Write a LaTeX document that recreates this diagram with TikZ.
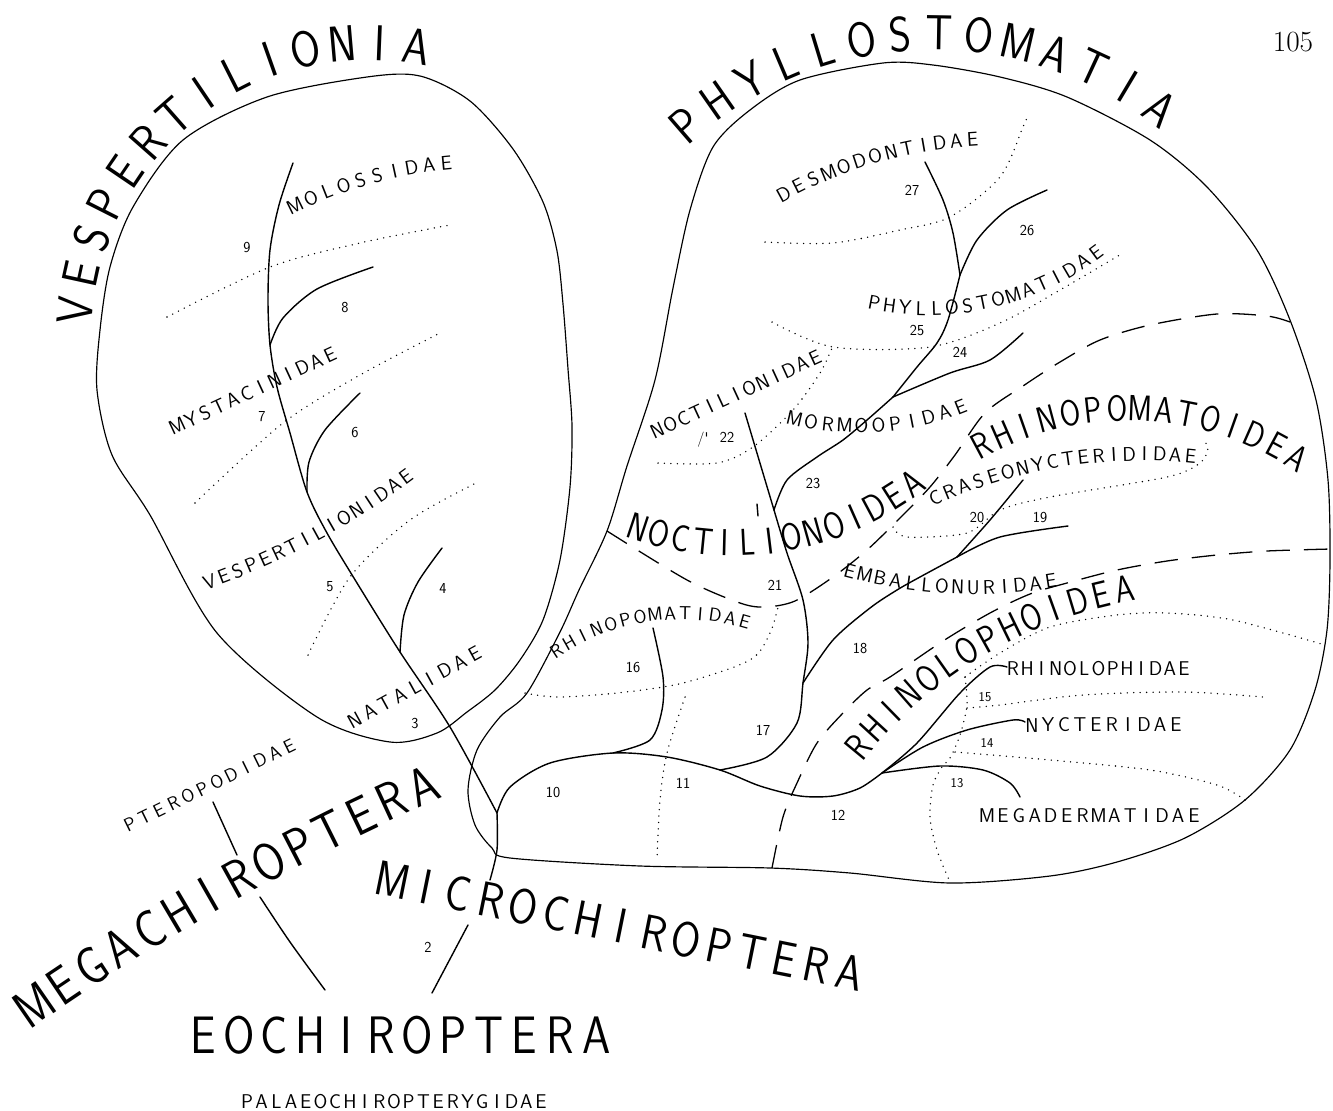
\documentclass[tikz,border=0pt]{standalone}
\usepackage{fontspec}
\newfontfamily\labf{lmsans17-regular.otf}
\newfontfamily\bigf[FakeStretch=0.86]{lmsans17-regular.otf}
\newfontfamily\narf[FakeStretch=0.82]{lmsans17-regular.otf}
\newlength\lw
% measure total width and count of a comma list of letters
\newcommand\mwidths[2]{%
  \gdef\tw{0}\gdef\tn{0}%
  \foreach \ch in {#2}{\settowidth{\lw}{#1\ch}\pgfmathsetmacro\tmp{\tw+\lw}\xdef\tw{\tmp}%
    \pgfmathtruncatemacro\tmpn{\tn+1}\xdef\tn{\tmpn}}}
% letters along a circular arc through three points (pixel units)
\newcommand\clbl[8]{%
  \pgfmathsetmacro\Ax{#3/100}\pgfmathsetmacro\Ay{#4/100}%
  \pgfmathsetmacro\Bx{#5/100}\pgfmathsetmacro\By{#6/100}%
  \pgfmathsetmacro\Cx{#7/100}\pgfmathsetmacro\Cy{#8/100}%
  \pgfmathsetmacro\dd{2*(\Ax*(\By-\Cy)+\Bx*(\Cy-\Ay)+\Cx*(\Ay-\By))}%
  \pgfmathsetmacro\sA{\Ax*\Ax+\Ay*\Ay}%
  \pgfmathsetmacro\sB{\Bx*\Bx+\By*\By}%
  \pgfmathsetmacro\sC{\Cx*\Cx+\Cy*\Cy}%
  \pgfmathsetmacro\ux{(\sA*(\By-\Cy)+\sB*(\Cy-\Ay)+\sC*(\Ay-\By))/\dd}%
  \pgfmathsetmacro\uy{(\sA*(\Cx-\Bx)+\sB*(\Ax-\Cx)+\sC*(\Bx-\Ax))/\dd}%
  \pgfmathsetmacro\Rr{veclen(\Ax-\ux,\Ay-\uy)}%
  \pgfmathsetmacro\tA{atan2(\Ay-\uy,\Ax-\ux)}%
  \pgfmathsetmacro\tC{atan2(\Cy-\uy,\Cx-\ux)}%
  \pgfmathsetmacro\cross{(\Bx-\Ax)*(\Cy-\By)-(\By-\Ay)*(\Cx-\Bx)}%
  \pgfmathsetmacro\sg{\cross>0 ? 1 : -1}%
  \pgfmathsetmacro\Dl{mod(\sg*(\tC-\tA)+720,360)}%
  \pgfmathsetmacro\Lpt{\Rr*100*rad(\Dl)*0.853583}%
  \mwidths{#1}{#2}%
  \pgfmathsetmacro\gap{(\Lpt-\tw)/max(\tn-1,1)}%
  \gdef\cum{0}%
  \foreach \ch in {#2}{\settowidth{\lw}{#1\ch}%
    \pgfmathsetmacro\spx{(\cum+0.5*\lw)/0.853583}%
    \pgfmathsetmacro\ph{\tA+\sg*deg(\spx/(\Rr*100))}%
    \pgfmathsetmacro\qx{100*\ux+100*\Rr*cos(\ph)}%
    \pgfmathsetmacro\qy{100*\uy+100*\Rr*sin(\ph)}%
    \pgfmathsetmacro\al{atan2(-\sg*cos(\ph),-\sg*sin(\ph))}%
    \node[rotate=\al,anchor=base,inner sep=0pt,font=#1] at (\qx,\qy) {\ch};
    \pgfmathsetmacro\tmp{\cum+\lw+\gap}\xdef\cum{\tmp}}}
% letters along a straight line
\newcommand\slbl[6]{%
  \pgfmathsetmacro\Lpt{veclen(#5-#3,#6-#4)*0.853583}%
  \pgfmathsetmacro\al{atan2(-(#6-#4),#5-#3)}%
  \mwidths{#1}{#2}%
  \pgfmathsetmacro\gap{(\Lpt-\tw)/max(\tn-1,1)}%
  \gdef\cum{0}%
  \foreach \ch in {#2}{\settowidth{\lw}{#1\ch}%
    \pgfmathsetmacro\ff{(\cum+0.5*\lw)/\Lpt}%
    \pgfmathsetmacro\qx{#3+\ff*(#5-#3)}%
    \pgfmathsetmacro\qy{#4+\ff*(#6-#4)}%
    \node[rotate=\al,anchor=base,inner sep=0pt,font=#1] at (\qx,\qy) {\ch};
    \pgfmathsetmacro\tmp{\cum+\lw+\gap}\xdef\cum{\tmp}}}
\newcommand\smallf{\labf\fontsize{17}{17}\selectfont}
\newcommand\midf{\labf\fontsize{16}{16}\selectfont}
\tikzset{
  edge/.style={line width=1pt,line join=round},
  br/.style={line width=1.2pt,line cap=round,line join=round},
  dotl/.style={line width=1.3pt,line cap=round,dash pattern=on 0pt off 5.5pt},
  dashl/.style={line width=1.1pt,dash pattern=on 20pt off 12pt},
  num/.style={font=\labf\fontsize{13}{13}\selectfont,inner sep=0pt},
  snum/.style={font=\labf\fontsize{11.5}{11.5}\selectfont,inner sep=0pt}
}
\begin{document}
\begin{tikzpicture}[x=0.03cm,y=-0.03cm]
\fill[white] (0,0) rectangle (1333,1111);
\useasboundingbox (0,0) rectangle (1333,1111);

% ---------- enclosures ----------
\draw[edge] plot[smooth cycle] coordinates {(390,742) (317,717) (217,633) (150,515) (112,455) (97,390) (100,330) (110,267) (133,207) (183,140) (267,97) (367,77) (420,76) (470,101) (513,149) (543,202) (557,251) (563,304) (568,369) (572,426) (570,487) (560,560) (543,620) (520,660) (495,690) (467,712) (437,733)};
\draw[edge] plot[smooth cycle] coordinates {(510,858) (640,866) (770,868) (850,873) (950,883) (1050,876) (1117,862) (1185,838) (1245,800) (1290,750) (1315,690) (1327,630) (1330,560) (1328,480) (1316,400) (1290,320) (1257,250) (1207,187) (1150,140) (1067,97) (1000,77) (933,65) (883,63) (800,80) (750,110) (713,147) (690,210) (673,288) (655,380) (627,466) (607,531) (579,590) (560,632) (527,693) (500,717) (477,750) (468,790) (475,825) (492,848)};

% ---------- dashed boundaries ----------
\draw[dashl] plot[smooth] coordinates {(607,531) (687,580) (740,603) (765,607) (795,601) (833,577) (867,550) (900,518) (930,487) (955,455) (985,413) (1023,386) (1060,362) (1100,340) (1150,325) (1217,314) (1267,316) (1290,322)};
\draw[dashl] plot[smooth] coordinates {(772,868) (783,817) (797,783) (817,743) (843,713) (867,690) (890,677) (943,641) (990,613) (1030,594) (1067,583) (1117,570) (1167,561) (1217,555) (1267,551) (1331,549)};

% ---------- dotted lines ----------
\draw[dotl] plot[smooth] coordinates {(167,317) (270,267) (360,243) (450,225)};
\draw[dotl] plot[smooth] coordinates {(195,503) (283,423) (360,375) (440,333)};
\draw[dotl] plot[smooth] coordinates {(308,655) (350,577) (410,520) (478,482)};
\draw[dotl] plot[smooth] coordinates {(765,242) (833,243) (900,230) (950,217) (1000,177) (1023,127) (1027,118)};
\draw[dotl] plot[smooth] coordinates {(772,322) (833,347) (930,347) (1000,323) (1060,290) (1123,253)};
\draw[dotl] plot[smooth] coordinates {(658,463) (717,463) (753,447) (793,410) (820,373) (832,348)};
\draw[dotl] plot[smooth] coordinates {(893,527) (907,537) (967,533) (1000,510) (1050,497) (1167,477) (1200,463) (1208,448) (1203,440)};
\draw[dotl] plot[smooth] coordinates {(525,693) (557,697) (617,693) (683,683) (750,660) (770,633) (778,607)};
\draw[dotl] plot[smooth] coordinates {(685,697) (667,753) (660,800) (657,860)};
\draw[dotl] plot[smooth] coordinates {(965,677) (1000,653) (1050,627) (1117,615) (1167,613) (1233,620) (1325,645)};
\draw[dotl] plot[smooth] coordinates {(965,677) (967,705) (960,735) (950,758) (942,767) (933,785) (930,817) (937,850) (950,882)};
\draw[dotl] plot[smooth] coordinates {(967,708) (1000,705) (1083,695) (1183,692) (1263,697)};
\draw[dotl] plot[smooth] coordinates {(955,752) (1050,760) (1150,770) (1217,785) (1245,800)};

% ---------- tree ----------
\coordinate (v0) at (293,163);
\coordinate (n8) at (270,345);
\coordinate (n6) at (307,492);
\coordinate (n4) at (400,652);
\coordinate (root) at (497,813);
\coordinate (n16) at (613,753);
\coordinate (n17) at (720,770);
\coordinate (n18) at (803,683);
\coordinate (n19) at (957,557);
\coordinate (n22) at (774,510);
\coordinate (n24) at (893,397);
\coordinate (n26) at (960,275);
\coordinate (nR) at (882,773);

\draw[br] plot[smooth] coordinates {(v0) (279,205) (270,250) (268,300) (n8) (277,387) (290,433) (n6) (327,533) (357,583) (n4) (450,727) (root)};
\draw[br] plot[smooth] coordinates {(root) (497,850) (490,880)};
\draw[br] plot[smooth] coordinates {(n8) (283,318) (317,289) (373,267)};
\draw[br] plot[smooth] coordinates {(n6) (309,462) (325,430) (360,393)};
\draw[br] plot[smooth] coordinates {(n4) (404,615) (418,582) (442,548)};

\draw[br] plot[smooth] coordinates {(root) (510,787) (550,763) (n16) (667,757) (n17) (760,786) (800,796) (833,796) (860,788) (nR)};
\draw[br] plot[smooth] coordinates {(n16) (650,740) (662,710) (663,677) (653,628)};
\draw[br] plot[smooth] coordinates {(n17) (767,757) (797,723) (n18) (808,643) (803,600) (787,553) (n22)};
\draw[br] (n22) -- (745,413);
\draw[br] plot[smooth] coordinates {(n18) (833,640) (870,608) (897,590) (920,577) (n19)};
\draw[br] plot[smooth] coordinates {(n19) (1000,537) (1068,526)};
\draw[br] plot[smooth] coordinates {(n19) (990,520) (1023,480)};
\draw[br] plot[smooth] coordinates {(n22) (787,480) (817,457) (843,440) (867,420) (n24)};
\draw[br] plot[smooth] coordinates {(n24) (950,373) (990,360) (1023,333)};
\draw[br] plot[smooth] coordinates {(n24) (917,367) (937,343) (948,320) (n26)};
\draw[br] plot[smooth] coordinates {(n26) (953,233) (943,200) (925,162)};
\draw[br] plot[smooth] coordinates {(n26) (977,240) (1007,210) (1047,190)};
\draw[br] plot[smooth] coordinates {(nR) (917,743) (960,693) (990,667) (1007,667)};
\draw[br] plot[smooth] coordinates {(nR) (923,747) (967,730) (1013,720) (1025,722)};
\draw[br] plot[smooth] coordinates {(nR) (940,766) (983,770) (1010,783) (1020,797)};

\draw[br] (213,802) -- (237,855);
\draw[br] plot[smooth] coordinates {(260,897) (290,942) (325,990)};
\draw[br] (468,925) -- (432,993);
\draw[br] (757,504) -- (758,516);

% ---------- big labels ----------
\clbl{\bigf\fontsize{43}{43}\selectfont}{V,E,S,P,E,R,T,I,L,I,O,N,I,A}{93}{312}{199}{118}{414}{64}
\clbl{\bigf\fontsize{42}{42}\selectfont}{P,H,Y,L,L,O,S,T,O,M,A,T,I,A}{697}{138}{933}{50}{1150}{122}
\clbl{\bigf\fontsize{45}{45}\selectfont}{M,E,G,A,C,H,I,R,O,P,T,E,R,A}{44}{1019}{240}{897}{430}{802}
\slbl{\bigf\fontsize{42}{42}\selectfont}{M,I,C,R,O,C,H,I,R,O,P,T,E,R,A}{390}{897}{846}{989}
\slbl{\bigf\fontsize{45}{45}\selectfont}{E,O,C,H,I,R,O,P,T,E,R,A}{203}{1053}{596}{1053}
\clbl{\narf\fontsize{32}{32}\selectfont}{N,O,C,T,I,L,I,O,N,O,I,D,E,A}{634}{540}{757}{555}{920}{494}
\clbl{\narf\fontsize{31}{31}\selectfont}{R,H,I,N,O,P,O,M,A,T,O,I,D,E,A}{987}{456}{1140}{421}{1290}{468}
\clbl{\narf\fontsize{32}{32}\selectfont}{R,H,I,N,O,L,O,P,H,O,I,D,E,A}{868}{755}{977}{660}{1127}{602}

% ---------- family labels ----------
\clbl{\smallf}{M,O,L,O,S,S,I,D,A,E}{298}{212}{387}{180}{447}{170}
\slbl{\smallf}{M,Y,S,T,A,C,I,N,I,D,A,E}{180}{432}{333}{361}
\clbl{\smallf}{V,E,S,P,E,R,T,I,L,I,O,N,I,D,A,E}{212}{588}{290}{555}{410}{482}
\slbl{\smallf}{N,A,T,A,L,I,D,A,E}{358}{726}{478}{660}
\slbl{\midf}{P,T,E,R,O,P,O,D,I,D,A,E}{133}{830}{292}{752}
\clbl{\midf}{R,H,I,N,O,P,O,M,A,T,I,D,A,E}{560}{656}{667}{620}{743}{628}
\slbl{\smallf}{N,O,C,T,I,L,I,O,N,I,D,A,E}{660}{437}{818}{364}
\clbl{\smallf}{M,O,R,M,O,O,P,I,D,A,E}{793}{425}{880}{432}{963}{413}
\clbl{\smallf}{P,H,Y,L,L,O,S,T,O,M,A,T,I,D,A,E}{873}{310}{1000}{306}{1100}{258}
\clbl{\smallf}{D,E,S,M,O,D,O,N,T,I,D,A,E}{787}{200}{870}{165}{973}{146}
\clbl{\smallf}{C,R,A,S,E,O,N,Y,C,T,E,R,I,D,I,D,A,E}{938}{504}{1027}{474}{1190}{463}
\clbl{\smallf}{E,M,B,A,L,L,O,N,U,R,I,D,A,E}{848}{578}{957}{594}{1052}{588}
\slbl{\smallf}{R,H,I,N,O,L,O,P,H,I,D,A,E}{1013}{675}{1184}{675}
\slbl{\smallf}{N,Y,C,T,E,R,I,D,A,E}{1032}{732}{1176}{731}
\slbl{\smallf}{M,E,G,A,D,E,R,M,A,T,I,D,A,E}{987}{822}{1194}{822}
\slbl{\smallf}{P,A,L,A,E,O,C,H,I,R,O,P,T,E,R,Y,G,I,D,A,E}{247}{1108}{541}{1108}

% ---------- numbers ----------
\node[num] (l9) at (247,247) {9};
\node[num] (l8) at (345,307) {8};
\node[num] (l7) at (262,417) {7};
\node[num] (l6) at (355,432) {6};
\node[num] (l5) at (330,587) {5};
\node[num] (l4) at (443,588) {4};
\node[num] (l3) at (415,723) {3};
\node[num] (l2) at (428,947) {2};
\node[num] (l10) at (553,792) {10};
\node[num] (l11) at (683,783) {11};
\node[num] (l12) at (838,815) {12};
\node[snum] (l13) at (957,783) {13};
\node[snum] (l14) at (987,743) {14};
\node[snum] (l15) at (985,697) {15};
\node[num] (l16) at (633,667) {16};
\node[num] (l17) at (763,730) {17};
\node[num] (l18) at (860,648) {18};
\node[num] (l19) at (1040,517) {19};
\node[num] (l20) at (977,517) {20};
\node[num] (l21) at (775,585) {21};
\node[num] (l22) at (727,437) {22};
\node[num] (lp) at (703,440) {/'};
\node[num] (l23) at (813,483) {23};
\node[num] (l24) at (960,352) {24};
\node[num] (l25) at (917,330) {25};
\node[num] (l26) at (1027,230) {26};
\node[num] (l27) at (912,190) {27};
\node[font=\rmfamily\fontsize{25}{25}\selectfont,inner sep=0pt] (page) at (1293,42) {105};
\end{tikzpicture}
\end{document}
